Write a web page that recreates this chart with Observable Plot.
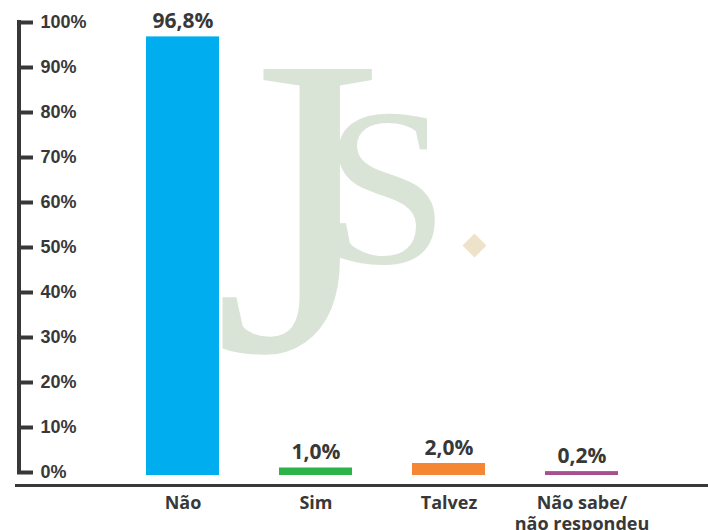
<!DOCTYPE html>
<html>
<head>
<meta charset="utf-8">
<script src="https://cdn.jsdelivr.net/npm/d3@7"></script>
<script src="https://cdn.jsdelivr.net/npm/@observablehq/plot@0.6"></script>
<style>
  html, body { margin: 0; padding: 0; background: #fff; }
</style>
</head>
<body>
<div id="chart"></div>
<script>
const categories = ["Não", "Sim", "Talvez", "Não sabe/\nnão respondeu"];
const values = [96.8, 1.0, 2.0, 0.2];
const valueLabels = ["96,8%", "1,0%", "2,0%", "0,2%"];
const colors = ["#00AEEF", "#2DB34A", "#F58634", "#A8508F"];
const yTicks = [0, 10, 20, 30, 40, 50, 60, 70, 80, 90, 100];
const yTickLabels = ["0%", "10%", "20%", "30%", "40%", "50%", "60%", "70%", "80%", "90%", "100%"];

const data = categories.map((c, i) => ({cat: c, value: values[i], label: valueLabels[i], color: colors[i]}));

const ink = "#383838";
const geo = "'Open Sans', 'Noto Sans', sans-serif";

const chart = Plot.plot({
  width: 708,
  height: 530,
  marginTop: 22,
  marginBottom: 58,
  marginLeft: 85,
  marginRight: 28,
  style: {background: "#fff", color: ink, overflow: "visible"},
  x: {domain: categories, padding: 0.45, axis: null},
  y: {domain: [0, 100], axis: null},
  marks: [
    // watermark logo
    Plot.text(["J"], {frameAnchor: "top-left", dx: 128, dy: 328, lineAnchor: "bottom", textAnchor: "start",
      fontSize: 430, fontFamily: "'Liberation Serif', serif", fill: "#D9E3D6"}),
    Plot.text(["S"], {frameAnchor: "top-left", dx: 238, dy: 240, lineAnchor: "bottom", textAnchor: "start",
      fontSize: 225, fontFamily: "'Liberation Serif', serif", fill: "#D9E3D6"}),
    Plot.dot([0], {x: null, y: null, frameAnchor: "top-left", dx: 389, dy: 223, symbol: "diamond2", r: 10.8, fill: "#EEE3CA"}),
    // bars
    Plot.barY(data, {x: "cat", y: "value", fill: "color", insetBottom: -3}),
    Plot.text(data, {x: "cat", y: "value", text: "label", dy: -9, lineAnchor: "bottom",
      fontSize: 21, fontWeight: 700, fontFamily: geo, fill: ink}),
    // y axis ticks and labels
    Plot.ruleY(yTicks, {y: d => d, insetLeft: -68, insetRight: 647, stroke: ink, strokeWidth: 4}),
    Plot.text(yTicks, {y: d => d, text: (d, i) => yTickLabels[i], frameAnchor: "left", dx: -45, textAnchor: "start",
      fontSize: 18, fontWeight: 700, fontFamily: "'Liberation Sans', Arial, sans-serif", fill: ink}),
    // x baseline
    Plot.ruleY([0], {dy: 13, insetLeft: -70, insetRight: -28, stroke: ink, strokeWidth: 3}),
    Plot.axisX({tickSize: 0, tickPadding: 21, label: null, fontSize: 18, fontWeight: 700, fontFamily: geo, lineHeight: 1.2})
  ]
});

// vertical axis line joining the ticks
const ys = chart.scale("y");
d3.select(chart).append("line")
  .attr("x1", 19).attr("x2", 19)
  .attr("y1", ys.apply(100) - 2).attr("y2", ys.apply(0) + 2)
  .attr("stroke", ink).attr("stroke-width", 4);

document.getElementById("chart").appendChild(chart);
</script>
</body>
</html>
